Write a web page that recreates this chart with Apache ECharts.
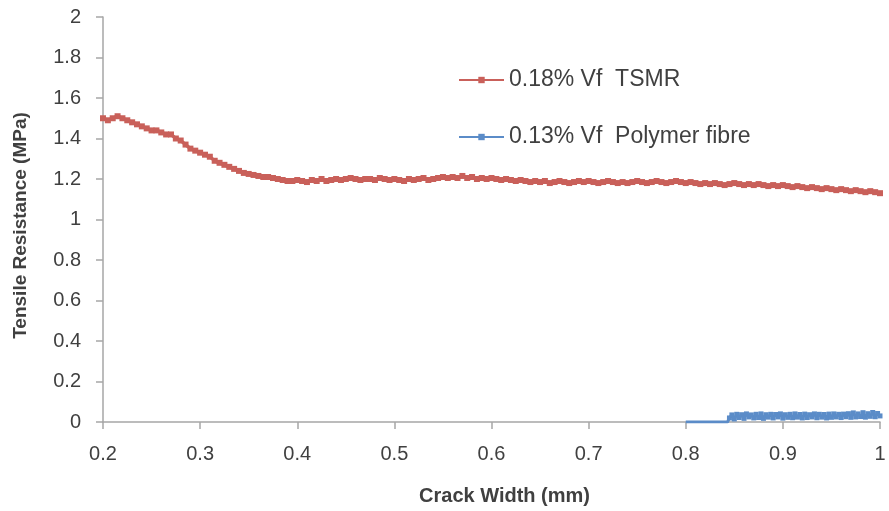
<!DOCTYPE html>
<html>
<head>
<meta charset="utf-8">
<script src="https://cdn.jsdelivr.net/npm/echarts@6/dist/echarts.min.js"></script>
<style>
html,body{margin:0;padding:0;background:#fff;}
#chart{width:889px;height:511px;}
</style>
</head>
<body>
<div id="chart"></div>
<script>
// Crack width (mm) for the TSMR series
const crackWidthTSMR = [
0.200,0.205,0.210,0.215,0.220,0.225,0.230,0.235,0.240,0.245,
0.250,0.255,0.260,0.265,0.270,0.275,0.280,0.285,0.290,0.295,
0.300,0.305,0.310,0.315,0.320,0.325,0.330,0.335,0.340,0.345,
0.350,0.355,0.360,0.365,0.370,0.375,0.380,0.385,0.390,0.395,
0.400,0.405,0.410,0.415,0.420,0.425,0.430,0.435,0.440,0.445,
0.450,0.455,0.460,0.465,0.470,0.475,0.480,0.485,0.490,0.495,
0.500,0.505,0.510,0.515,0.520,0.525,0.530,0.535,0.540,0.545,
0.550,0.555,0.560,0.565,0.570,0.575,0.580,0.585,0.590,0.595,
0.600,0.605,0.610,0.615,0.620,0.625,0.630,0.635,0.640,0.645,
0.650,0.655,0.660,0.665,0.670,0.675,0.680,0.685,0.690,0.695,
0.700,0.705,0.710,0.715,0.720,0.725,0.730,0.735,0.740,0.745,
0.750,0.755,0.760,0.765,0.770,0.775,0.780,0.785,0.790,0.795,
0.800,0.805,0.810,0.815,0.820,0.825,0.830,0.835,0.840,0.845,
0.850,0.855,0.860,0.865,0.870,0.875,0.880,0.885,0.890,0.895,
0.900,0.905,0.910,0.915,0.920,0.925,0.930,0.935,0.940,0.945,
0.950,0.955,0.960,0.965,0.970,0.975,0.980,0.985,0.990,0.995,
1.000
];
// Tensile resistance (MPa), 0.18% Vf TSMR
const resistanceTSMR = [
1.50,1.49,1.50,1.51,1.50,1.49,1.48,1.47,1.46,1.45,
1.44,1.44,1.43,1.42,1.42,1.40,1.39,1.37,1.35,1.34,
1.33,1.32,1.31,1.29,1.28,1.27,1.26,1.25,1.24,1.23,
1.225,1.22,1.215,1.21,1.21,1.205,1.20,1.195,1.19,1.19,
1.195,1.19,1.185,1.195,1.19,1.20,1.19,1.195,1.20,1.195,
1.20,1.205,1.20,1.195,1.20,1.20,1.195,1.205,1.20,1.195,
1.20,1.195,1.19,1.20,1.195,1.20,1.205,1.195,1.20,1.205,
1.21,1.205,1.21,1.205,1.215,1.205,1.21,1.20,1.205,1.20,
1.205,1.20,1.195,1.20,1.195,1.19,1.195,1.19,1.185,1.19,
1.185,1.19,1.18,1.185,1.19,1.185,1.18,1.185,1.19,1.185,
1.19,1.185,1.18,1.185,1.19,1.185,1.18,1.185,1.18,1.185,
1.19,1.185,1.18,1.185,1.19,1.185,1.18,1.185,1.19,1.185,
1.18,1.185,1.18,1.175,1.18,1.175,1.18,1.175,1.17,1.175,
1.18,1.175,1.17,1.175,1.17,1.175,1.17,1.165,1.17,1.165,
1.17,1.165,1.16,1.165,1.16,1.155,1.16,1.155,1.15,1.155,
1.15,1.145,1.15,1.145,1.14,1.145,1.14,1.135,1.14,1.135,
1.13
];
// Crack width (mm) for the polymer fibre series
const crackWidthPolymer = [
0.800,0.843,
0.8450,0.8475,0.8500,0.8525,0.8550,0.8575,0.8600,0.8625,0.8650,0.8675,
0.8700,0.8725,0.8750,0.8775,0.8800,0.8825,0.8850,0.8875,0.8900,0.8925,
0.8950,0.8975,0.9000,0.9025,0.9050,0.9075,0.9100,0.9125,0.9150,0.9175,
0.9200,0.9225,0.9250,0.9275,0.9300,0.9325,0.9350,0.9375,0.9400,0.9425,
0.9450,0.9475,0.9500,0.9525,0.9550,0.9575,0.9600,0.9625,0.9650,0.9675,
0.9700,0.9725,0.9750,0.9775,0.9800,0.9825,0.9850,0.9875,0.9900,0.9925,
0.9950,0.9975,1.0000
];
// Tensile resistance (MPa), 0.13% Vf Polymer fibre
const resistancePolymer = [
0,0,
0.020,0.035,0.015,0.038,0.022,0.036,0.018,0.040,0.025,0.035,
0.020,0.038,0.022,0.040,0.018,0.036,0.024,0.038,0.020,0.037,
0.025,0.040,0.019,0.036,0.023,0.038,0.021,0.040,0.024,0.037,
0.020,0.039,0.022,0.036,0.025,0.040,0.021,0.038,0.024,0.037,
0.020,0.039,0.023,0.040,0.025,0.038,0.022,0.039,0.026,0.041,
0.023,0.045,0.025,0.040,0.027,0.046,0.024,0.041,0.028,0.047,
0.026,0.042,0.030
];
const seriesNames = ['0.18% Vf  TSMR', '0.13% Vf  Polymer fibre'];
const xTicks = { min: 0.2, max: 1, interval: 0.1 };
const yTicks = { min: 0, max: 2, interval: 0.2 };

const zip = (xs, ys) => xs.map((x, i) => [x, ys[i]]);

const FONT = "'Liberation Sans', Arial, sans-serif";
const AXIS_COLOR = '#A6A6A6';
const TEXT_COLOR = '#404040';
const RED = '#C9605A';
const BLUE = '#5B8CC8';

const chart = echarts.init(document.getElementById('chart'), null, { renderer: 'canvas' });
chart.setOption({
  animation: false,
  backgroundColor: '#ffffff',
  textStyle: { fontFamily: FONT },
  grid: { left: 103, right: 9, top: 17, bottom: 88, containLabel: false },
  legend: {
    orient: 'vertical',
    left: 453,
    top: 62,
    itemWidth: 45,
    itemHeight: 8,
    itemGap: 31,
    textStyle: { fontSize: 23, color: TEXT_COLOR, fontFamily: FONT, lineHeight: 26 },
    data: seriesNames
  },
  xAxis: {
    type: 'value',
    min: xTicks.min, max: xTicks.max, interval: xTicks.interval,
    name: 'Crack Width (mm)',
    nameLocation: 'middle',
    nameGap: 64,
    nameTextStyle: { fontSize: 20, fontWeight: 'bold', color: TEXT_COLOR, fontFamily: FONT, padding: [0, 0, 0, 26] },
    axisLine: { show: true, onZero: false, lineStyle: { color: AXIS_COLOR, width: 1.5 } },
    axisTick: { show: true, length: 7, lineStyle: { color: AXIS_COLOR, width: 1.5 } },
    axisLabel: { fontSize: 20, color: TEXT_COLOR, margin: 22, formatter: v => String(+v.toFixed(1)) },
    splitLine: { show: false }
  },
  yAxis: {
    type: 'value',
    min: yTicks.min, max: yTicks.max, interval: yTicks.interval,
    name: 'Tensile Resistance (MPa)',
    nameLocation: 'middle',
    nameGap: 73,
    nameRotate: 90,
    nameTextStyle: { fontSize: 19, fontWeight: 'bold', color: TEXT_COLOR, fontFamily: FONT, padding: [0, 12, 0, 0] },
    axisLine: { show: true, lineStyle: { color: AXIS_COLOR, width: 1.5 } },
    axisTick: { show: true, length: 7, lineStyle: { color: AXIS_COLOR, width: 1.5 } },
    axisLabel: { fontSize: 20, color: TEXT_COLOR, margin: 22, formatter: v => String(+v.toFixed(1)) },
    splitLine: { show: false }
  },
  series: [
    {
      name: seriesNames[0],
      type: 'line',
      data: zip(crackWidthTSMR, resistanceTSMR),
      symbol: 'rect',
      symbolSize: 6,
      showAllSymbol: true,
      lineStyle: { color: RED, width: 3.5 },
      itemStyle: { color: RED },
      z: 3
    },
    {
      name: seriesNames[1],
      type: 'line',
      data: zip(crackWidthPolymer, resistancePolymer),
      symbol: 'rect',
      symbolSize: (val, p) => (p.dataIndex < 2 ? 0 : 5),
      showAllSymbol: true,
      lineStyle: { color: BLUE, width: 3 },
      itemStyle: { color: BLUE },
      z: 4
    }
  ]
});
</script>
</body>
</html>
